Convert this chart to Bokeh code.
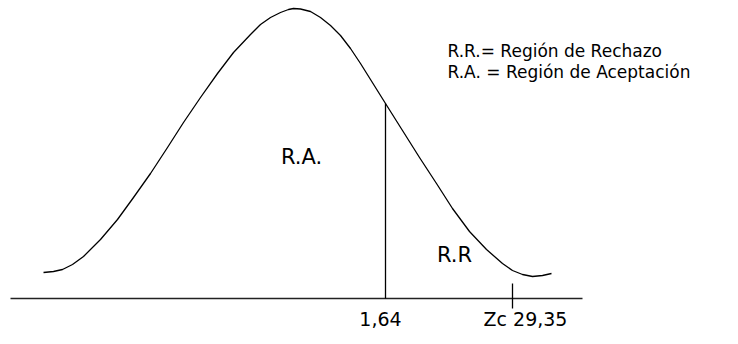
from bokeh.plotting import figure
from bokeh.models import Range1d
from bokeh.core.properties import value
from bokeh.embed import file_html
from bokeh.resources import INLINE

# --- data (x in chart units, y = height above the baseline)
curve_x = [43, 53, 62, 72, 83, 100, 117, 133, 150, 167, 183, 200, 217, 233, 250, 260, 270,
           280, 288, 293, 300, 310, 320, 330, 340, 350, 360, 370, 385, 402, 419, 436, 452,
           469, 486, 502, 512, 522, 532, 542, 551]
curve_y = [26, 27, 29, 34, 42, 59, 79, 101, 125, 151, 176, 201, 225, 246, 264, 274, 281,
           286, 289, 290, 289.5, 287, 281, 273, 263, 250, 235, 219, 195, 168, 141, 115, 90,
           67, 49, 35, 28, 24, 22, 23, 25]

axis_start = 10
axis_end = 582
critical_x = 385          # 1,64
critical_top = 195        # curve height at 1,64
zc_x = 512                # Zc 29,35
tick_ends = [15, -10]

tick_labels = ["1,64", "Zc 29,35"]
tick_label_x = [380, 525]
region_labels = ["R.A.", "R.R"]
region_label_x = [301, 454]
region_label_y = [142, 44]
legend_lines = ["R.R.= Región  de Rechazo", "R.A. = Región de Aceptación"]
legend_y = [248, 227]

W, H = 722, 328
p = figure(width=W, height=H, output_backend="svg", toolbar_location=None,
           x_range=Range1d(0, W), y_range=Range1d(298 - H, 298),
           min_border=0, outline_line_color=None)
p.axis.visible = False
p.grid.visible = False
p.background_fill_color = "white"
p.border_fill_color = "white"

# bell curve
p.line(curve_x, curve_y, line_color="black", line_width=1.3, line_join="round")

# baseline
p.line([axis_start, axis_end], [0, 0], line_color="#222222", line_width=1.3)

# critical value line
p.line([critical_x, critical_x], [0, critical_top], line_color="black", line_width=1.3)

# Zc tick
p.line([zc_x, zc_x], tick_ends, line_color="black", line_width=1.3)

font = value("DejaVu Sans")

p.text(x=tick_label_x, y=[-20, -20], text=tick_labels, text_font=font,
       text_font_size="19px", text_align="center", text_baseline="alphabetic",
       text_color="black")

p.text(x=region_label_x, y=region_label_y, text=region_labels, text_font=font,
       text_font_size="21px", text_align="center", text_baseline="alphabetic",
       text_color="black")

p.text(x=[447, 447], y=legend_y, text=legend_lines, text_font=font,
       text_font_size="17px", text_align="left", text_baseline="alphabetic",
       text_color="black")

open("out.html", "w").write(file_html(p, INLINE))
